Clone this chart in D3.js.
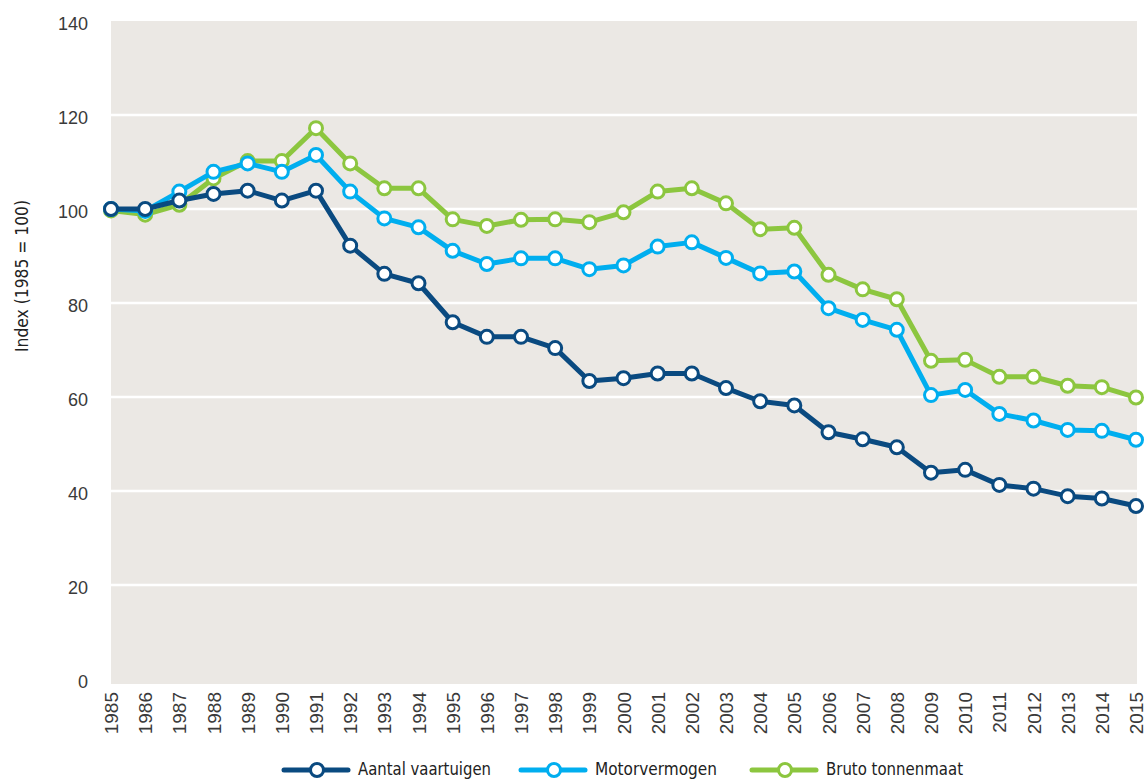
<!DOCTYPE html>
<html>
<head>
<meta charset="utf-8">
<script src="https://cdn.jsdelivr.net/npm/d3@7"></script>
<style>
  html, body { margin: 0; padding: 0; background: #ffffff; }
  svg { display: block; font-family: "DejaVu Sans Condensed", "DejaVu Sans", sans-serif; font-stretch: condensed; }
</style>
</head>
<body>
<svg id="chart" width="1148" height="783"></svg>
<script>
// Index of the Dutch fishing fleet, 1985 = 100
const years = d3.range(1985, 2016);

const aantalVaartuigen = [100, 100, 101.8, 103.2, 103.9, 101.8, 103.9, 92.2, 86.2, 84.2,
  75.9, 72.8, 72.8, 70.4, 63.4, 64.0, 65.0, 65.0, 61.9, 59.1,
  58.2, 52.5, 51.0, 49.3, 43.9, 44.5, 41.3, 40.5, 38.9, 38.4, 36.8];

const motorvermogen = [100, 99.6, 103.7, 107.9, 109.7, 107.9, 111.5, 103.7, 98.0, 96.1,
  91.1, 88.3, 89.5, 89.5, 87.2, 88.0, 92.0, 92.9, 89.6, 86.3,
  86.7, 78.9, 76.4, 74.3, 60.4, 61.5, 56.4, 55.0, 53.0, 52.8, 50.9];

const brutoTonnenmaat = [99.7, 98.8, 100.9, 106.5, 110.2, 110.2, 117.2, 109.7, 104.4, 104.4,
  97.8, 96.4, 97.7, 97.8, 97.2, 99.3, 103.7, 104.4, 101.2, 95.7,
  96.0, 86.0, 82.9, 80.8, 67.7, 67.9, 64.3, 64.3, 62.4, 62.1, 59.9];

const yTicks = [0, 20, 40, 60, 80, 100, 120, 140];

const series = [
  { name: "Bruto tonnenmaat", values: brutoTonnenmaat, color: "#8cc63f" },
  { name: "Motorvermogen", values: motorvermogen, color: "#00aeef" },
  { name: "Aantal vaartuigen", values: aantalVaartuigen, color: "#0a4a80" }
];
const legendOrder = ["Aantal vaartuigen", "Motorvermogen", "Bruto tonnenmaat"];

const svg = d3.select("#chart");
const plot = { left: 111, right: 1137, top: 21, bottom: 684 };

const x = d3.scalePoint().domain(years).range([111, 1136]);
const y = d3.scaleLinear().domain([0, 140]).range([679, 21]);

// Plot background
svg.append("rect")
  .attr("x", plot.left).attr("y", plot.top)
  .attr("width", plot.right - plot.left).attr("height", plot.bottom - plot.top)
  .attr("fill", "#ebe8e4");

// Horizontal gridlines
svg.append("g").selectAll("line")
  .data(yTicks.filter(t => t > 0 && t < 140))
  .join("line")
  .attr("x1", plot.left).attr("x2", plot.right)
  .attr("y1", d => y(d)).attr("y2", d => y(d))
  .attr("stroke", "#ffffff").attr("stroke-width", 2.5);

// Y axis labels
const yAxis = svg.append("g")
  .attr("transform", `translate(${88},3)`)
  .call(d3.axisLeft(y).tickValues(yTicks).tickSize(0).tickPadding(0));
yAxis.select(".domain").remove();
yAxis.selectAll("text")
  .attr("font-size", 18).attr("fill", "#3a3a3a")
  .attr("font-family", null);

// X axis labels, rotated
const xAxis = svg.append("g")
  .attr("transform", `translate(0,${692})`)
  .call(d3.axisBottom(x).tickSize(0).tickPadding(0).tickFormat(d3.format("d")));
xAxis.select(".domain").remove();
xAxis.selectAll("text")
  .attr("font-size", 19).attr("fill", "#3a3a3a")
  .attr("font-family", null)
  .attr("text-anchor", "end")
  .attr("dy", "0.35em")
  .attr("transform", "rotate(-90)")
  .attr("x", 0).attr("y", 0);

// Y axis title
svg.append("text")
  .attr("transform", "translate(28,276) rotate(-90)")
  .attr("text-anchor", "middle")
  .attr("font-size", 18).attr("fill", "#222")
  .attr("textLength", 152).attr("lengthAdjust", "spacingAndGlyphs")
  .text("Index (1985 = 100)");

// Lines and markers
const line = d3.line().x((d, i) => x(years[i])).y(d => y(d));

series.forEach(s => {
  const g = svg.append("g");
  g.append("path")
    .datum(s.values)
    .attr("d", line)
    .attr("fill", "none")
    .attr("stroke", s.color)
    .attr("stroke-width", 5)
    .attr("stroke-linejoin", "round");
  g.selectAll("circle")
    .data(s.values)
    .join("circle")
    .attr("cx", (d, i) => x(years[i]))
    .attr("cy", d => y(d))
    .attr("r", 6.5)
    .attr("fill", "#ffffff")
    .attr("stroke", s.color)
    .attr("stroke-width", 3);
});

// Legend
const legendX = [284, 521, 752];
const legendW = [133, 122, 137];
const legendY = 770;
const legend = svg.append("g");
legendOrder.forEach((name, i) => {
  const s = series.find(d => d.name === name);
  const lg = legend.append("g").attr("transform", `translate(${legendX[i]},${legendY})`);
  lg.append("line")
    .attr("x1", 0).attr("x2", 64).attr("y1", 0).attr("y2", 0)
    .attr("stroke", s.color).attr("stroke-width", 5).attr("stroke-linecap", "round");
  lg.append("circle")
    .attr("cx", 33).attr("cy", 0).attr("r", 6.5)
    .attr("fill", "#fff").attr("stroke", s.color).attr("stroke-width", 3);
  lg.append("text")
    .attr("x", 74).attr("y", 0).attr("dy", "0.3em")
    .attr("font-size", 18).attr("fill", "#222")
    .attr("textLength", legendW[i]).attr("lengthAdjust", "spacingAndGlyphs")
    .text(name);
});
</script>
</body>
</html>
